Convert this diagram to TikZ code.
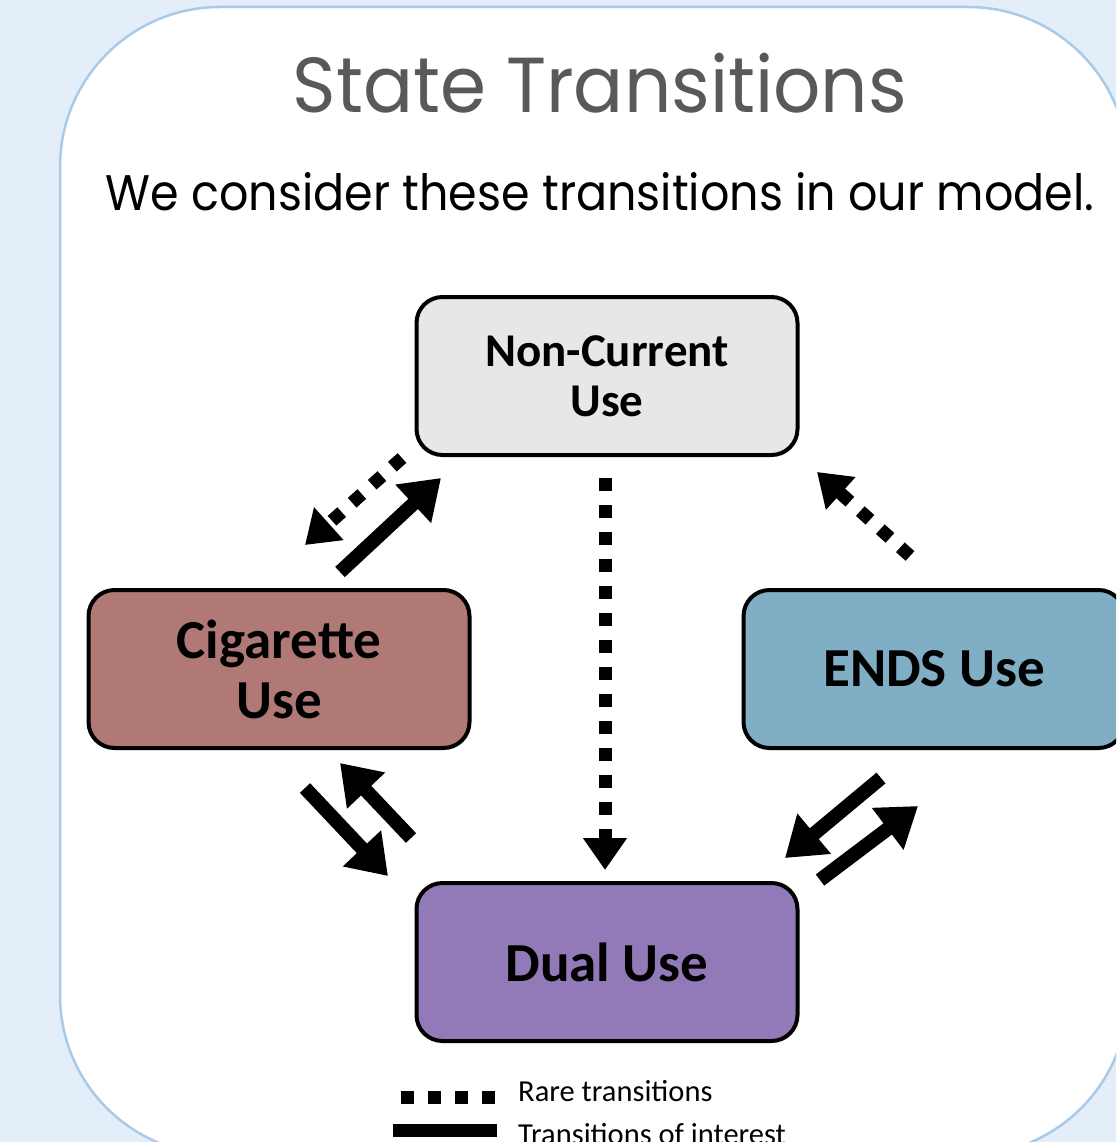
\documentclass[tikz,border=0pt]{standalone}
\usepackage{fontspec}
\setmainfont{Carlito}
\newfontfamily\headfont{Poppins}
\usetikzlibrary{arrows.meta}

\definecolor{pagebg}{HTML}{E3EEF8}
\definecolor{panelline}{HTML}{A9CBEA}
\definecolor{titlegray}{HTML}{595959}
\definecolor{ncfill}{HTML}{E7E7E7}
\definecolor{cigfill}{HTML}{B07975}
\definecolor{endsfill}{HTML}{7FAEC5}
\definecolor{dualfill}{HTML}{9279B8}

\tikzset{
  statebox/.style={draw=black, line width=4pt, rounded corners=26pt,
    minimum width=381pt, minimum height=158pt, align=center,
    font=\bfseries\fontsize{47}{50}\selectfont},
  bigstate/.style={statebox, font=\bfseries\fontsize{55}{60}\selectfont},
  solidarrow/.style={line width=14pt, -{Triangle[length=38pt,width=50pt]}},
  rarearrow/.style={line width=13pt, dash pattern=on 13pt off 14pt,
    -{Triangle[length=32pt,width=42pt]}},
  legendtext/.style={anchor=base west, font=\fontsize{30.5}{34}\selectfont, inner sep=0pt},
}

\begin{document}
\begin{tikzpicture}[x=1pt, y=-1pt]
  \useasboundingbox (0,0) rectangle (1116,1142);
  \clip (0,0) rectangle (1116,1142);
  % page background and rounded panel
  \fill[pagebg] (0,0) rectangle (1116,1142);
  \draw[panelline, fill=white, line width=2.5pt, rounded corners=160pt]
    (60,7) rectangle (1128,1155);

  % headings
  \node[anchor=base, text=titlegray, font=\headfont\fontsize{78}{90}\selectfont]
    (title) at (600,113) {\scalebox{0.95}[1]{State Transitions}};
  \node[anchor=base, font=\headfont\fontsize{50}{60}\selectfont]
    (subtitle) at (600,210) {\scalebox{0.92}[1]{We consider these transitions in our model.}};

  % states
  \node[statebox, fill=ncfill] (nc) at (607,376) {Non-Current\\Use};
  \node[bigstate, fill=cigfill] (cig) at (279,669) {Cigarette\\Use};
  \node[bigstate, fill=endsfill] (ends) at (934,669) {ENDS Use};
  \node[bigstate, fill=dualfill] (dual) at (607,962) {Dual Use};

  % arrow end points around the states
  \coordinate (cigUpA) at (340,572);  \coordinate (cigUpB) at (441,478);
  \coordinate (ncCigA) at (402,458);  \coordinate (ncCigB) at (305,545);
  \coordinate (ncDualA) at (605,478); \coordinate (ncDualB) at (605,870);
  \coordinate (endsNcA) at (910,556); \coordinate (endsNcB) at (817,472);
  \coordinate (cigDualA) at (305,788); \coordinate (cigDualB) at (388,876);
  \coordinate (dualCigA) at (411,838); \coordinate (dualCigB) at (340,763);
  \coordinate (endsDualA) at (881,778); \coordinate (endsDualB) at (785,858);
  \coordinate (dualEndsA) at (820,880); \coordinate (dualEndsB) at (918,806);

  % transitions
  \draw[solidarrow] (cigUpA) -- (cigUpB);
  \draw[rarearrow] (ncCigA) -- (ncCigB);
  \draw[rarearrow] (ncDualA) -- (ncDualB);
  \draw[rarearrow] (endsNcA) -- (endsNcB);
  \draw[solidarrow] (cigDualA) -- (cigDualB);
  \draw[solidarrow] (dualCigA) -- (dualCigB);
  \draw[solidarrow] (endsDualA) -- (endsDualB);
  \draw[solidarrow] (dualEndsA) -- (dualEndsB);

  % legend
  \coordinate (legRareA) at (401,1097); \coordinate (legRareB) at (497,1097);
  \coordinate (legMainA) at (393,1130); \coordinate (legMainB) at (497,1130);
  \draw[line width=13pt, dash pattern=on 13pt off 14pt] (legRareA) -- (legRareB);
  \draw[line width=13pt] (legMainA) -- (legMainB);
  \node[legendtext] (legRare) at (518,1101) {Rare transitions};
  \node[legendtext] (legMain) at (518,1144) {Transitions of interest};
\end{tikzpicture}
\end{document}
